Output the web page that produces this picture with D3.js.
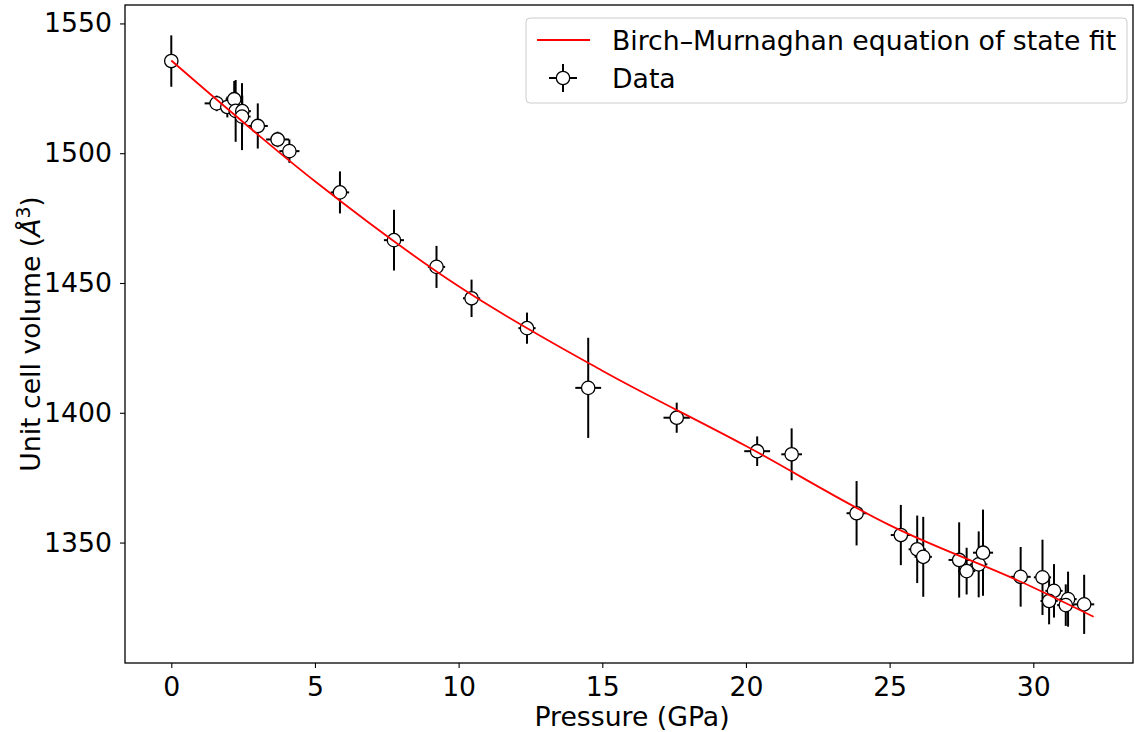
<!DOCTYPE html>
<html>
<head>
<meta charset="utf-8">
<script src="https://cdn.jsdelivr.net/npm/d3@7"></script>
<style>
  body { margin: 0; background: #fff; }
  svg { display: block; }
  text { font-family: "DejaVu Sans", sans-serif; fill: #000; }
</style>
</head>
<body>
<svg id="chart" width="1135" height="732"></svg>
<script>
// ---- Data ----
const pressure = [0, 1.58, 1.95, 2.19, 2.24, 2.47, 2.46, 3.01, 3.70, 4.11, 5.87, 7.75, 9.23, 10.45, 12.38, 14.51, 17.59, 20.39, 21.59, 23.85, 25.39, 25.96, 26.17, 27.42, 27.68, 28.10, 28.25, 29.56, 30.32, 30.72, 30.55, 31.21, 31.13, 31.77];
const volume   = [1535.5, 1519.2, 1517.8, 1520.8, 1516.3, 1516.2, 1514.1, 1510.5, 1505.3, 1500.8, 1484.9, 1466.5, 1456.2, 1444.1, 1432.6, 1409.6, 1398.1, 1385.2, 1384.0, 1361.3, 1352.9, 1347.4, 1344.5, 1343.3, 1339.0, 1341.6, 1346.1, 1336.8, 1336.6, 1331.4, 1327.5, 1328.2, 1325.9, 1326.2];
const volumeErr = [9.9, 3, 4, 7, 11.9, 6, 12.9, 8.7, 3, 4.5, 8.1, 11.7, 8.1, 7.2, 6, 19.3, 5.8, 5.7, 10, 12.4, 11.6, 13, 15.4, 14.5, 9, 12.7, 16.6, 11.5, 14.5, 10.3, 9, 10.6, 8, 11.4];
const pressureErr = [0, 0.42, 0.35, 0.3, 0.3, 0.3, 0.3, 0.35, 0.4, 0.35, 0.32, 0.35, 0.3, 0.3, 0.3, 0.45, 0.46, 0.45, 0.36, 0.35, 0.35, 0.3, 0.3, 0.37, 0.3, 0.3, 0.35, 0.35, 0.3, 0.3, 0.3, 0.3, 0.3, 0.35];

// Birch–Murnaghan fit curve
const fitPressure = [0, 5, 10, 15, 20, 25, 30, 32.1];
const fitVolume   = [1535.7, 1489.2, 1448.7, 1416.2, 1387.2, 1356.7, 1332.7, 1321.4];

const xTicks = [0, 5, 10, 15, 20, 25, 30];
const yTicks = [1350, 1400, 1450, 1500, 1550];

const xTitle = "Pressure (GPa)";
const legendLabels = ["Birch–Murnaghan equation of state fit", "Data"];

// ---- Layout ----
const svg = d3.select("#chart");
const plot = { left: 125, right: 1133, top: 5, bottom: 663 };
const FS = 26.7;

const x = d3.scaleLinear().domain([-1.611, 33.47]).range([plot.left, plot.right]);
const y = d3.scaleLinear().domain([1303.6, 1557.1]).range([plot.bottom, plot.top]);

const data = pressure.map((p, i) => ({ p, v: volume[i], ve: volumeErr[i], pe: pressureErr[i] }));

// Error bars
const eg = svg.append("g");
eg.selectAll("line.v").data(data).join("line")
  .attr("x1", d => x(d.p)).attr("x2", d => x(d.p))
  .attr("y1", d => y(d.v - d.ve)).attr("y2", d => y(d.v + d.ve))
  .attr("stroke", "#000").attr("stroke-width", 2);
eg.selectAll("line.h").data(data.filter(d => d.pe > 0)).join("line")
  .attr("x1", d => x(d.p - d.pe)).attr("x2", d => x(d.p + d.pe))
  .attr("y1", d => y(d.v)).attr("y2", d => y(d.v))
  .attr("stroke", "#000").attr("stroke-width", 2);
// Markers
svg.append("g").selectAll("circle").data(data).join("circle")
  .attr("cx", d => x(d.p)).attr("cy", d => y(d.v)).attr("r", 6.7)
  .attr("fill", "#fff").attr("stroke", "#000").attr("stroke-width", 1.3);

// Fit line
const fit = fitPressure.map((p, i) => [p, fitVolume[i]]);
svg.append("path").datum(fit)
  .attr("d", d3.line().x(d => x(d[0])).y(d => y(d[1])).curve(d3.curveMonotoneX))
  .attr("fill", "none").attr("stroke", "#ff0000").attr("stroke-width", 1.8);

// Axes
const xAxis = svg.append("g").attr("transform", `translate(0,${plot.bottom})`)
  .call(d3.axisBottom(x).tickValues(xTicks).tickFormat(d3.format("d")).tickSize(5).tickPadding(9));
const yAxis = svg.append("g").attr("transform", `translate(${plot.left},0)`)
  .call(d3.axisLeft(y).tickValues(yTicks).tickFormat(d3.format("d")).tickSize(5).tickPadding(8));
[xAxis, yAxis].forEach(a => {
  a.select(".domain").remove();
  a.selectAll("line").attr("stroke", "#000").attr("stroke-width", 1.1);
  a.selectAll("text").style("font-family", "DejaVu Sans").style("font-size", FS + "px").attr("fill", "#000");
});

// Frame
svg.append("rect").attr("x", plot.left).attr("y", plot.top)
  .attr("width", plot.right - plot.left).attr("height", plot.bottom - plot.top)
  .attr("fill", "none").attr("stroke", "#000").attr("stroke-width", 1.3);

// Axis titles
svg.append("text").attr("x", 632).attr("y", 726)
  .attr("text-anchor", "middle").style("font-size", FS + "px").text(xTitle);

const yl = svg.append("text").attr("transform", `translate(40,${(plot.top + plot.bottom) / 2}) rotate(-90)`)
  .attr("text-anchor", "middle").style("font-size", FS + "px");
yl.append("tspan").text("Unit cell volume (");
yl.append("tspan").style("font-style", "italic").text("Å");
yl.append("tspan").attr("dy", -10).style("font-size", (FS * 0.7) + "px").text("3");
yl.append("tspan").attr("dy", 10).text(")");

// Legend
const lg = svg.append("g");
lg.append("rect").attr("x", 526).attr("y", 18).attr("width", 601).attr("height", 85).attr("rx", 4)
  .attr("fill", "#fff").attr("fill-opacity", 0.8).attr("stroke", "#cccccc").attr("stroke-width", 1);
lg.append("line").attr("x1", 537).attr("x2", 590).attr("y1", 40).attr("y2", 40)
  .attr("stroke", "#ff0000").attr("stroke-width", 1.8);
lg.append("line").attr("x1", 549).attr("x2", 577).attr("y1", 78).attr("y2", 78).attr("stroke", "#000").attr("stroke-width", 2);
lg.append("line").attr("x1", 563).attr("x2", 563).attr("y1", 64).attr("y2", 92).attr("stroke", "#000").attr("stroke-width", 2);
lg.append("circle").attr("cx", 563).attr("cy", 78).attr("r", 6.7).attr("fill", "#fff").attr("stroke", "#000").attr("stroke-width", 1.3);
lg.selectAll("text.l").data(legendLabels).join("text")
  .attr("x", 612).attr("y", (d, i) => 49.5 + i * 38)
  .style("font-size", FS + "px").text(d => d);
</script>
</body>
</html>
